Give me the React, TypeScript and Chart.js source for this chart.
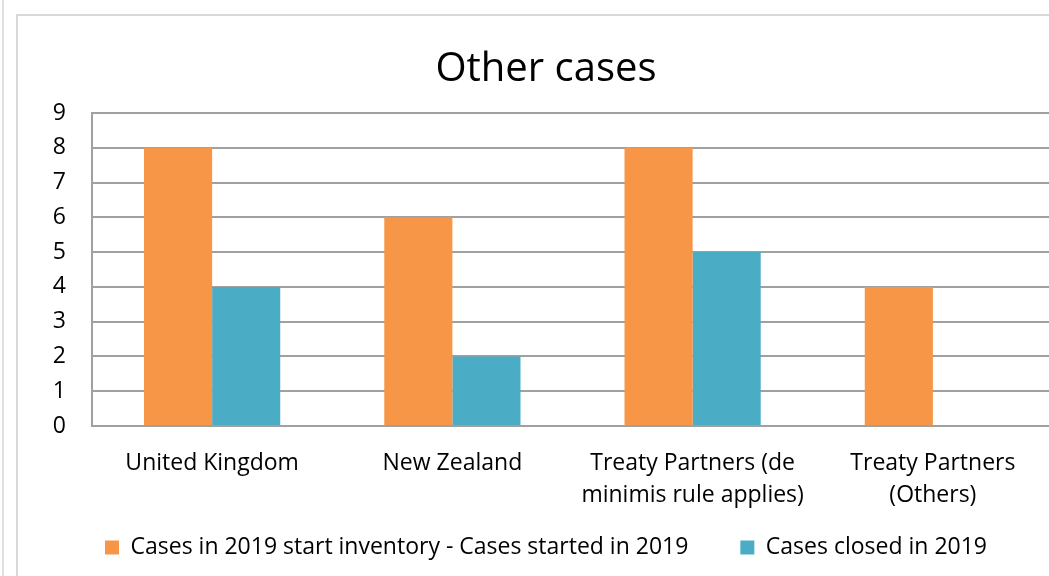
import React, { useEffect, useRef } from "react";
import { Chart, registerables } from "chart.js";

Chart.register(...registerables);

const categories: (string | string[])[] = [
  "United Kingdom",
  "New Zealand",
  ["Treaty Partners (de", "minimis rule applies)"],
  ["Treaty Partners", "(Others)"],
];
const startedSeries = [8, 6, 8, 4];
const closedSeries = [4, 2, 5, 0];
const seriesNames = [
  "Cases in 2019 start inventory - Cases started in 2019",
  "Cases closed in 2019",
];
const titleText = "Other cases";
const FONT = "'Open Sans', sans-serif";

// let the two-line category labels run below the (short) x-axis box
const noLabelClip = {
  id: "noLabelClip",
  beforeDraw(chart: any) {
    const x = chart.scales.x;
    if (x) x._computeLabelArea = () => undefined;
  },
};

export default function App() {
  const ref = useRef<HTMLCanvasElement | null>(null);
  useEffect(() => {
    if (!ref.current) return;
    const chart = new Chart(ref.current, {
      type: "bar",
      data: {
        labels: categories,
        datasets: [
          { label: seriesNames[0], data: startedSeries, backgroundColor: "#F79646", borderWidth: 0 },
          { label: seriesNames[1], data: closedSeries, backgroundColor: "#4BACC6", borderWidth: 0 },
        ],
      },
      plugins: [noLabelClip],
      options: {
        animation: false,
        responsive: false,
        maintainAspectRatio: false,
        layout: { padding: { left: 21, right: 23, top: 0, bottom: 7 } },
        datasets: { bar: { categoryPercentage: 0.567, barPercentage: 1 } },
        plugins: {
          title: {
            display: true,
            text: titleText,
            color: "#000",
            font: { family: FONT, size: 40, weight: "normal", lineHeight: 1.2 },
            padding: { top: 30, bottom: 19 },
          },
          legend: {
            position: "bottom",
            labels: {
              color: "#000",
              font: { family: FONT, size: 23 },
              boxWidth: 14,
              boxHeight: 14,
              padding: 52,
            },
          },
          tooltip: { enabled: false },
        },
        scales: {
          x: {
            grid: { display: false, drawTicks: false },
            border: { display: true, color: "#a0a0a0", width: 2 },
            ticks: {
              color: "#000",
              font: { family: FONT, size: 23, lineHeight: 1.4 },
              padding: 21,
              maxRotation: 0,
              autoSkip: false,
            },
            afterFit: (s: any) => {
              s.height = 58;
            },
          },
          y: {
            min: 0,
            max: 9,
            grid: { color: "#a0a0a0", lineWidth: 2, drawTicks: false },
            border: { display: true, color: "#a0a0a0", width: 2 },
            ticks: {
              stepSize: 1,
              color: "#000",
              font: { family: FONT, size: 23 },
              padding: 26,
            },
            afterFit: (s: any) => {
              s.width = 53;
            },
          },
        },
      },
    });
    return () => chart.destroy();
  }, []);

  return (
    <div
      style={{
        position: "absolute",
        left: 0,
        top: 0,
        width: 1049,
        height: 576,
        overflow: "hidden",
        background: "#fff",
      }}
    >
      <div
        style={{
          position: "absolute",
          left: 2,
          top: 0,
          width: 2,
          height: 576,
          background: "#e0e0e0",
        }}
      />
      <div
        style={{
          position: "absolute",
          left: 16,
          top: 14,
          width: 1070,
          height: 620,
          border: "2px solid #d9d9d9",
          boxSizing: "border-box",
        }}
      />
      <canvas
        ref={ref}
        width={1058}
        height={560}
        style={{ position: "absolute", left: 18, top: 16, width: 1058, height: 560 }}
      />
    </div>
  );
}
